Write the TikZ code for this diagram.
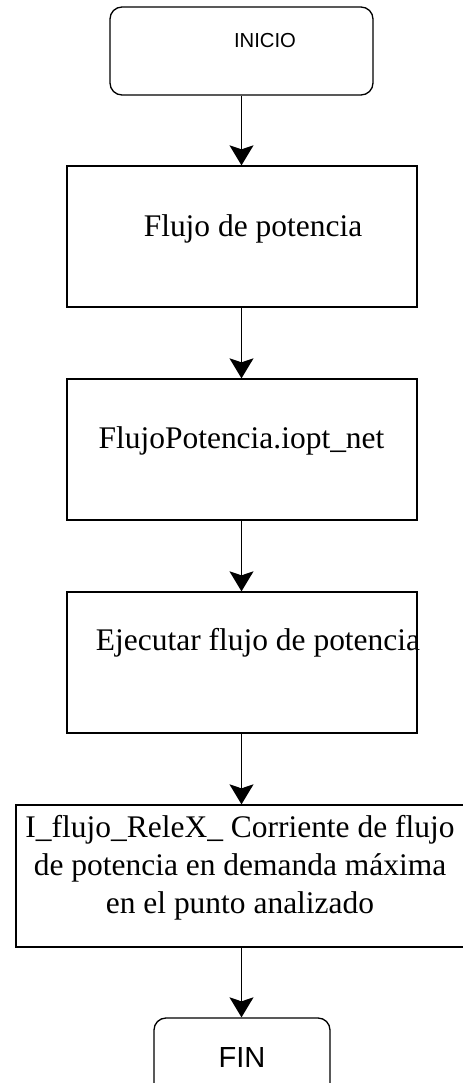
\documentclass[tikz,border=0pt]{standalone}
\usepackage{fontspec}
\setmainfont{Liberation Serif}
\newfontfamily\arialfont{Liberation Sans}
\usepackage{tikz}
\usetikzlibrary{arrows.meta, positioning}

\begin{document}
\begin{tikzpicture}[x=0.75pt, y=-0.75pt,
    box/.style={rectangle, draw=black, line width=1pt, inner sep=0pt, minimum width=262.5pt, minimum height=105.75pt},
    term/.style={rectangle, rounded corners=9pt, draw=black, line width=1pt, inner sep=0pt},
    txt/.style={font=\fontsize{23.6}{28.5}\selectfont, inner sep=0pt, anchor=base},
    flow/.style={-{Stealth[length=15pt, width=18pt, inset=3pt]}, line width=1pt}]
    \useasboundingbox (0,0) rectangle (463,1083);
    \node[term, minimum width=197.25pt, minimum height=66pt] (inicio) at (241.5,51) {};
    \node[box] (flujo) at (242,236.5) {};
    \node[box] (flujopot) at (242,449.5) {};
    \node[box] (ejecutar) at (242,662.5) {};
    \node[box, minimum width=336pt, minimum height=106.5pt] (corriente) at (240,876) {};
    \node[term, minimum width=132pt, minimum height=60pt] (fin) at (242,1058) {};

    \node[font=\arialfont\fontsize{15.2}{18}\selectfont, inner sep=0pt] (inicioTxt) at (265,41) {INICIO};
    \node[txt] (flujoTxt) at (253,236) {Flujo de potencia};
    \node[txt] (flujopotTxt) at (241.5,448) {FlujoPotencia.iopt\_net};
    \node[txt] (ejecutarTxt) at (258,650) {Ejecutar flujo de potencia};
    \node[txt, align=center, anchor=north] (corrienteTxt) at (240,815) {I\_flujo\_ReleX\_ Corriente de flujo\\ de potencia en demanda máxima\\ en el punto analizado};
    \node[font=\arialfont\fontsize{21.8}{26}\selectfont, inner sep=0pt] (finTxt) at (242,1057) {FIN};

    \draw[flow] (inicio.south) -- (inicio.south |- flujo.north);
    \draw[flow] (flujo.south -| inicio) -- (flujopot.north -| inicio);
    \draw[flow] (flujopot.south -| inicio) -- (ejecutar.north -| inicio);
    \draw[flow] (ejecutar.south -| inicio) -- (corriente.north -| inicio);
    \draw[flow] (corriente.south -| inicio) -- (fin.north -| inicio);
\end{tikzpicture}
\end{document}
